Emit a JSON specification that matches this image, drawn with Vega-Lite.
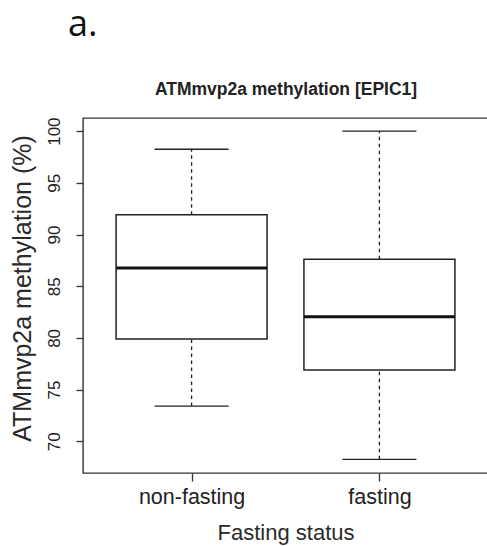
{
  "$schema": "https://vega.github.io/schema/vega-lite/v6.json",
  "width": 405,
  "height": 355,
  "autosize": {"type": "none"},
  "padding": {"left": 83, "top": 118, "right": 0, "bottom": 73},
  "background": "white",
  "title": {
    "text": "a.",
    "anchor": "start",
    "frame": "group",
    "font": "Open Sans",
    "fontSize": 36,
    "fontWeight": "normal",
    "color": "#111111",
    "dx": -15,
    "offset": 36
  },
  "data": {
    "values": [
      {"status": "non-fasting", "lower": 73.4, "q1": 79.9, "median": 86.75, "q3": 91.9, "upper": 98.25},
      {"status": "fasting", "lower": 68.25, "q1": 76.9, "median": 82.05, "q3": 87.6, "upper": 100.0}
    ]
  },
  "config": {
    "view": {"stroke": "#333333", "strokeWidth": 1.4},
    "axis": {
      "grid": false,
      "domain": false,
      "tickColor": "#333333",
      "tickWidth": 1.3,
      "labelColor": "#222222",
      "titleColor": "#2a2a2a",
      "labelFont": "Liberation Sans",
      "titleFont": "Liberation Sans",
      "titleFontWeight": "normal"
    }
  },
  "layer": [
    {
      "mark": {"type": "rule", "stroke": "#222222", "strokeWidth": 1.3, "strokeDash": [3.5, 3.5]},
      "encoding": {
        "x": {
          "field": "status", "type": "nominal",
          "scale": {"type": "point", "domain": ["non-fasting", "fasting"], "padding": 0.578},
          "axis": {
            "orient": "bottom",
            "tickSize": 8,
            "labelFontSize": 21.5,
            "labelAngle": 0,
            "labelBaseline": "alphabetic",
            "labelPadding": 22,
            "title": "Fasting status",
            "titleFontSize": 22,
            "titleBaseline": "alphabetic",
            "titleY": 66
          }
        },
        "y": {
          "field": "lower", "type": "quantitative",
          "scale": {"domain": [66.93, 101.27], "nice": false, "zero": false},
          "axis": {
            "orient": "left",
            "values": [70, 75, 80, 85, 90, 95, 100],
            "tickSize": 7,
            "labelAngle": -90,
            "labelAlign": "center",
            "labelBaseline": "alphabetic",
            "labelPadding": 16.5,
            "labelFontSize": 17,
            "title": "ATMmvp2a methylation (%)",
            "titleFontSize": 25,
            "titleAngle": -90,
            "titleAlign": "center",
            "titleBaseline": "alphabetic",
            "titleX": -52.5,
            "titleY": 170
          }
        },
        "y2": {"field": "q1"}
      }
    },
    {
      "mark": {"type": "rule", "stroke": "#222222", "strokeWidth": 1.3, "strokeDash": [3.5, 3.5]},
      "encoding": {
        "x": {"field": "status", "type": "nominal", "axis": null},
        "y": {"field": "q3", "type": "quantitative"},
        "y2": {"field": "upper"}
      }
    },
    {
      "mark": {"type": "bar", "size": 151, "fill": "white", "stroke": "#222222", "strokeWidth": 1.5},
      "encoding": {
        "x": {
          "field": "status", "type": "nominal",
          "axis": {
            "orient": "top",
            "ticks": false,
            "labels": false,
            "domain": false,
            "title": "ATMmvp2a methylation [EPIC1]",
            "titleFont": "Liberation Sans",
            "titleFontSize": 17.5,
            "titleFontWeight": "bold",
            "titleColor": "#222222",
            "titleBaseline": "alphabetic",
            "titleY": -24
          }
        },
        "y": {"field": "q1", "type": "quantitative"},
        "y2": {"field": "q3"}
      }
    },
    {
      "mark": {"type": "tick", "size": 151, "thickness": 3, "color": "#111111", "opacity": 1},
      "encoding": {
        "x": {"field": "status", "type": "nominal", "axis": null},
        "y": {"field": "median", "type": "quantitative"}
      }
    },
    {
      "mark": {"type": "tick", "size": 74, "thickness": 1.4, "color": "#222222", "opacity": 1},
      "encoding": {
        "x": {"field": "status", "type": "nominal", "axis": null},
        "y": {"field": "upper", "type": "quantitative"}
      }
    },
    {
      "mark": {"type": "tick", "size": 74, "thickness": 1.4, "color": "#222222", "opacity": 1},
      "encoding": {
        "x": {"field": "status", "type": "nominal", "axis": null},
        "y": {"field": "lower", "type": "quantitative"}
      }
    }
  ],
  "resolve": {"axis": {"x": "independent"}}
}
